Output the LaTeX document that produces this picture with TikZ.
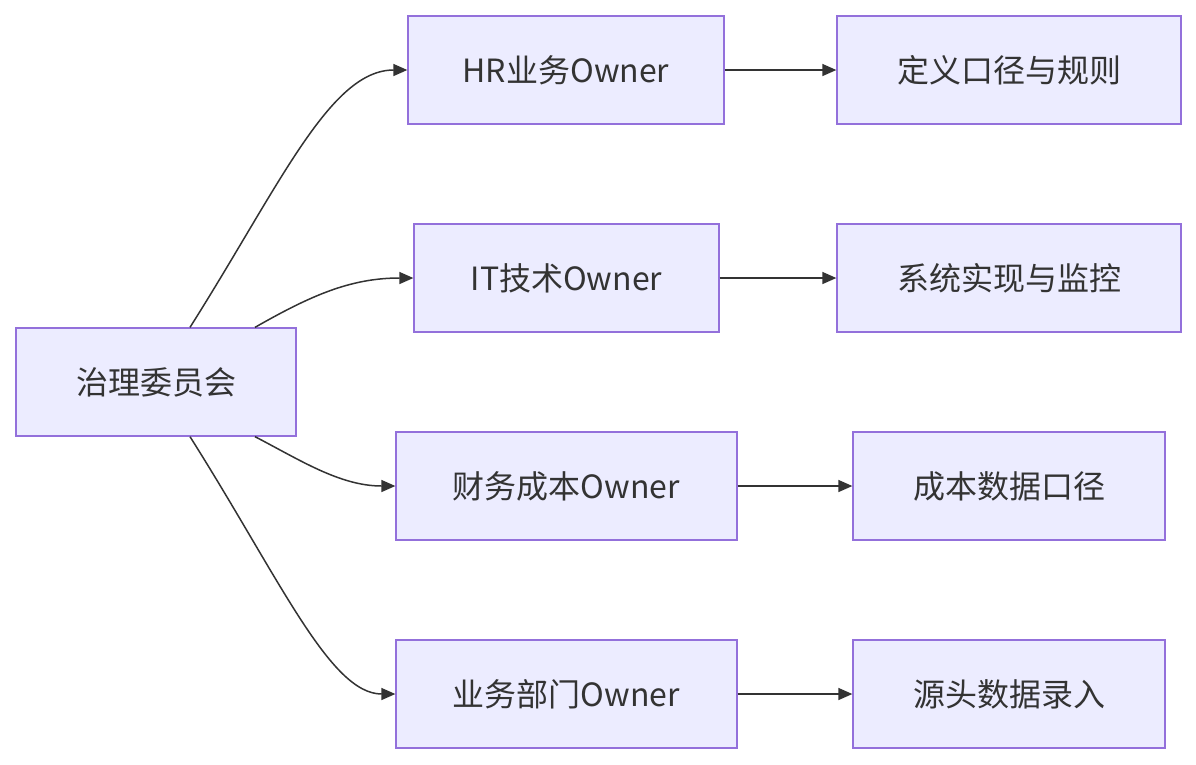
\documentclass[tikz,border=0pt]{standalone}
\usepackage{fontspec}
\setmainfont{Noto Sans CJK SC}
\usetikzlibrary{arrows.meta}
\definecolor{boxfill}{HTML}{ECECFF}
\definecolor{boxline}{HTML}{9370DB}
\definecolor{txt}{HTML}{333333}
\begin{document}
\begin{tikzpicture}[x=1pt,y=-1pt,
  box/.style={draw=boxline,fill=boxfill,line width=1.3pt,minimum height=108pt,inner sep=0pt,text=txt,font=\fontsize{32}{38}\selectfont},
  conn/.style={draw=txt,line width=1.5pt,-{Triangle[length=14pt,width=12pt]}}]
\useasboundingbox (0,0) rectangle (1196,764);
\node[box,minimum width=280pt] (gov) at (156,382) {治理委员会};
\node[box,minimum width=316pt] (hr) at (566,70) {HR业务Owner};
\node[box,minimum width=305pt] (it) at (566.5,278) {IT技术Owner};
\node[box,minimum width=341pt] (fin) at (566.5,486) {财务成本Owner};
\node[box,minimum width=341pt] (biz) at (566.5,694) {业务部门Owner};
\node[box,minimum width=344pt] (r1) at (1009,70) {定义口径与规则};
\node[box,minimum width=344pt] (r2) at (1009,278) {系统实现与监控};
\node[box,minimum width=312pt] (r3) at (1009,486) {成本数据口径};
\node[box,minimum width=312pt] (r4) at (1009,694) {源头数据录入};
\draw[conn] ([xshift=34pt]gov.north) .. controls (280,185) and (330,70) .. (hr.west);
\draw[conn] ([xshift=99pt]gov.north) .. controls (310,296) and (350,278) .. (it.west);
\draw[conn] ([xshift=99pt]gov.south) .. controls (300,460) and (340,486) .. (fin.west);
\draw[conn] ([xshift=34pt]gov.south) .. controls (280,579) and (330,694) .. (biz.west);
\draw[conn] (hr) -- (r1);
\draw[conn] (it) -- (r2);
\draw[conn] (fin) -- (r3);
\draw[conn] (biz) -- (r4);
\end{tikzpicture}
\end{document}
